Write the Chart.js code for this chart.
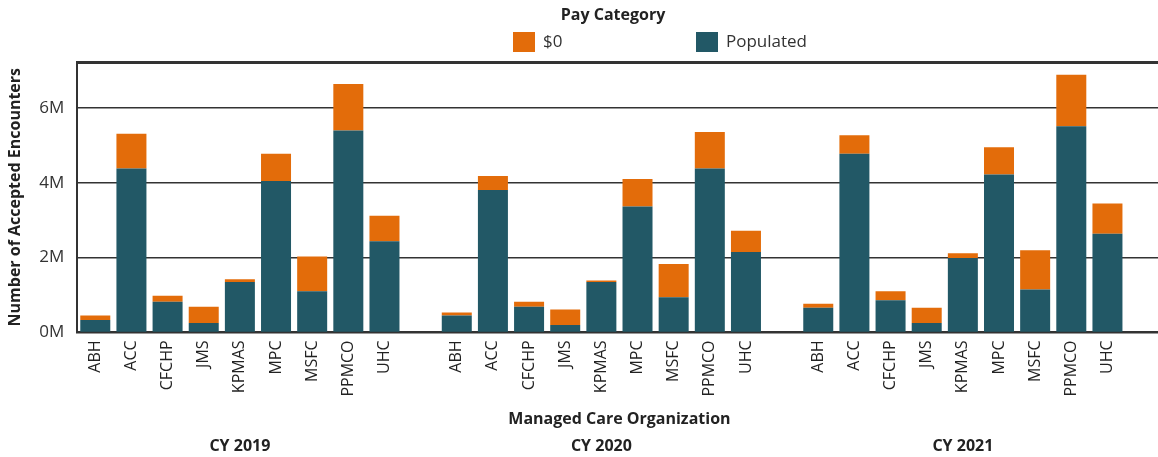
<!DOCTYPE html>
<html>
<head>
<meta charset="utf-8">
<title>Accepted Encounters by Managed Care Organization</title>
<script src="https://cdn.jsdelivr.net/npm/chart.js@4.4.1/dist/chart.umd.min.js"></script>
<style>
    html, body { margin: 0; padding: 0; background: #fff; overflow: hidden; }
    /* the plot runs past the right edge of the frame, as in the original */
    #wrap { position: relative; width: 1166px; height: 457px; }
</style>
</head>
<body>
<div id="wrap"><canvas id="encounterChart"></canvas></div>
<script>
// values in millions of accepted encounters
const organizations = ['ABH', 'ACC', 'CFCHP', 'JMS', 'KPMAS', 'MPC', 'MSFC', 'PPMCO', 'UHC'];
const years = ['CY 2019', 'CY 2020', 'CY 2021'];

const populated2019 = [0.33, 4.38, 0.82, 0.25, 1.35, 4.05, 1.10, 5.40, 2.44];
const zero2019 = [0.12, 0.93, 0.16, 0.44, 0.07, 0.73, 0.93, 1.24, 0.68];
const populated2020 = [0.45, 3.81, 0.69, 0.20, 1.35, 3.37, 0.94, 4.38, 2.15];
const zero2020 = [0.08, 0.37, 0.13, 0.41, 0.04, 0.73, 0.89, 0.98, 0.57];
const populated2021 = [0.66, 4.78, 0.86, 0.25, 1.99, 4.22, 1.15, 5.51, 2.64];
const zero2021 = [0.11, 0.49, 0.24, 0.41, 0.13, 0.73, 1.05, 1.38, 0.81];

const yTicks = [0, 2, 4, 6];
const yMax = 7.23;

const orange = '#e36c0a';
const teal = '#225866';
const font = '"Open Sans", "DejaVu Sans", sans-serif';

// one slot per organisation, plus an empty slot after each year
const slotLabels = [];
const yearLabels = [];
const populatedData = [];
const zeroData = [];
const populatedByYear = [populated2019, populated2020, populated2021];
const zeroByYear = [zero2019, zero2020, zero2021];

years.forEach((year, g) => {
    organizations.forEach((org, i) => {
        slotLabels.push(org);
        yearLabels.push(i === 4 ? year : '');
        populatedData.push(populatedByYear[g][i]);
        zeroData.push(zeroByYear[g][i]);
    });
    slotLabels.push('');
    yearLabels.push('');
    populatedData.push(null);
    zeroData.push(null);
});

// legend drawn to sit where the original one sits
const payLegend = {
    id: 'payLegend',
    afterDraw(chart) {
        const ctx = chart.ctx;
        const items = [chart.data.datasets[1], chart.data.datasets[0]];
        const xs = [513, 696];
        ctx.save();
        ctx.textBaseline = 'middle';
        ctx.fillStyle = '#222';
        ctx.font = 'bold 16px ' + font;
        ctx.textAlign = 'center';
        ctx.fillText('Pay Category', 613, 15);
        ctx.textAlign = 'left';
        ctx.font = '17px ' + font;
        items.forEach((ds, i) => {
            ctx.fillStyle = ds.backgroundColor;
            ctx.fillRect(xs[i], 32, 22, 20);
            ctx.fillStyle = '#333';
            ctx.fillText(ds.label, xs[i] + 30, 42);
        });
        ctx.restore();
    }
};

new Chart(document.getElementById('encounterChart'), {
    type: 'bar',
    data: {
        labels: slotLabels,
        datasets: [
            { label: 'Populated', data: populatedData, backgroundColor: teal, stack: 'pay' },
            { label: '$0', data: zeroData, backgroundColor: orange, stack: 'pay' }
        ]
    },
    options: {
        responsive: true,
        maintainAspectRatio: false,
        animation: false,
        layout: { padding: { top: 62, right: 0, bottom: -3, left: 0 } },
        datasets: { bar: { barPercentage: 0.83, categoryPercentage: 1 } },
        plugins: {
            legend: { display: false },
            tooltip: { enabled: false }
        },
        scales: {
            x: {
                stacked: true,
                weight: 0,
                grid: { display: false, drawTicks: false },
                border: { display: true, color: '#333', width: 2 },
                ticks: {
                    autoSkip: false,
                    minRotation: 90,
                    maxRotation: 90,
                    padding: 8,
                    color: '#222',
                    font: { family: font, size: 16, lineHeight: 0.9 }
                },
                title: {
                    display: true,
                    text: 'Managed Care Organization',
                    color: '#222',
                    font: { family: font, size: 16, weight: 'bold' },
                    padding: { top: 5, bottom: 4 }
                }
            },
            x2: {
                type: 'category',
                position: 'bottom',
                weight: 1,
                labels: yearLabels,
                offset: true,
                grid: { display: false, drawTicks: false },
                border: { display: false },
                ticks: {
                    autoSkip: false,
                    maxRotation: 0,
                    padding: 4,
                    color: '#222',
                    font: { family: font, size: 16, weight: 'bold' }
                }
            },
            y: {
                stacked: true,
                min: 0,
                max: yMax,
                afterBuildTicks: (scale) => {
                    scale.ticks = yTicks.map(v => ({ value: v })).concat([{ value: yMax }]);
                },
                grid: {
                    color: '#333',
                    lineWidth: (c) => (c.tick && c.tick.value === yMax ? 3 : 1.5),
                    drawTicks: false
                },
                border: { display: true, color: '#333', width: 2 },
                ticks: {
                    padding: 13,
                    color: '#333',
                    font: { family: font, size: 17 },
                    callback: (v) => (yTicks.includes(v) ? v + 'M' : '')
                },
                title: {
                    display: true,
                    text: 'Number of Accepted Encounters',
                    color: '#222',
                    font: { family: font, size: 16, weight: 'bold' },
                    padding: { top: 6, bottom: 1 }
                }
            }
        }
    },
    plugins: [payLegend]
});
</script>
</body>
</html>
